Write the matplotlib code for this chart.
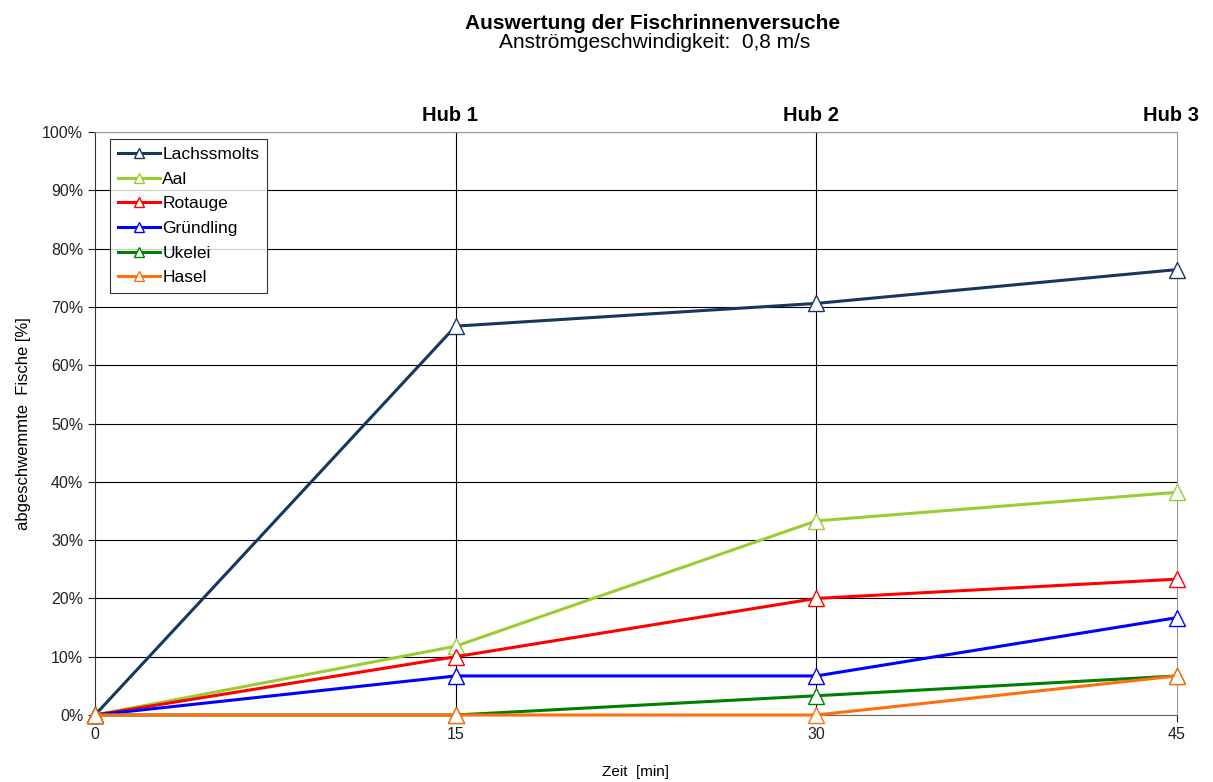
import matplotlib
matplotlib.use("Agg")
import matplotlib.pyplot as plt
from matplotlib.ticker import PercentFormatter

plt.rcParams['font.family'] = ['Liberation Sans', 'DejaVu Sans']

zeit = [0, 15, 30, 45]
hub_labels = ['Hub 1', 'Hub 2', 'Hub 3']
hub_pos = [15, 30, 45]

arten = ['Lachssmolts', 'Aal', 'Rotauge', 'Gründling', 'Ukelei', 'Hasel']
lachssmolts = [0, 66.7, 70.6, 76.4]
aal = [0, 11.8, 33.3, 38.2]
rotauge = [0, 10.0, 20.0, 23.3]
gruendling = [0, 6.7, 6.7, 16.7]
ukelei = [0, 0, 3.3, 6.7]
hasel = [0, 0, 0, 6.7]
farben = ['#17375e', '#9acd32', '#ff0000', '#0000ff', '#008000', '#ff6f0f']

fig = plt.figure(figsize=(12.13, 7.82), dpi=100)
ax = fig.add_axes([95/1213, 1 - 715/782, (1177-95)/1213, (715-132)/782])

for name, werte, c in zip(arten, [lachssmolts, aal, rotauge, gruendling, ukelei, hasel], farben):
    ax.plot(zeit, werte, color=c, lw=2.2, marker='^', markersize=12,
            markerfacecolor='white', markeredgecolor=c, markeredgewidth=1.0,
            label=name, clip_on=False, zorder=3)

ax.set_xlim(0, 45)
ax.set_ylim(0, 100)
ax.set_xticks(zeit)
ax.set_yticks(range(0, 101, 10))
ax.yaxis.set_major_formatter(PercentFormatter(decimals=0))
ax.tick_params(labelsize=11.5, colors='#222222', length=5, width=0.8)
ax.grid(axis='y', color='black', lw=0.8)
for x in hub_pos[:2]:
    ax.axvline(x, color='black', lw=0.8, zorder=1)

for s in ['top', 'right']:
    ax.spines[s].set_color('#999999')
ax.spines['bottom'].set_color('#666666')
ax.spines['left'].set_color('#333333')

# Hub-Beschriftung leicht links von den Linien
for x, t in zip(hub_pos, hub_labels):
    ax.annotate(t, xy=(x, 100), xytext=(-4, 8), textcoords='offset points',
                ha='center', va='baseline', fontsize=14.5, fontweight='bold')

ax.set_xlabel('Zeit  [min]', fontsize=11, labelpad=17)
ax.set_ylabel('abgeschwemmte  Fische [%]', fontsize=12, labelpad=8)

leg = ax.legend(loc='upper left', bbox_to_anchor=(0.014, 0.988), fontsize=12.5,
                frameon=True, fancybox=False, handlelength=2.4, labelspacing=0.55,
                borderpad=0.45, handletextpad=0.15, borderaxespad=0,
                markerscale=0.55)
leg.get_frame().set_edgecolor('black')
leg.get_frame().set_linewidth(0.8)

fig.text(0.538, 1 - 29/782, 'Auswertung der Fischrinnenversuche', ha='center',
         va='baseline', fontsize=15, fontweight='bold')
fig.text(0.54, 1 - 48/782, 'Anströmgeschwindigkeit:  0,8 m/s', ha='center',
         va='baseline', fontsize=15)

fig.savefig('out.png', dpi=100)
